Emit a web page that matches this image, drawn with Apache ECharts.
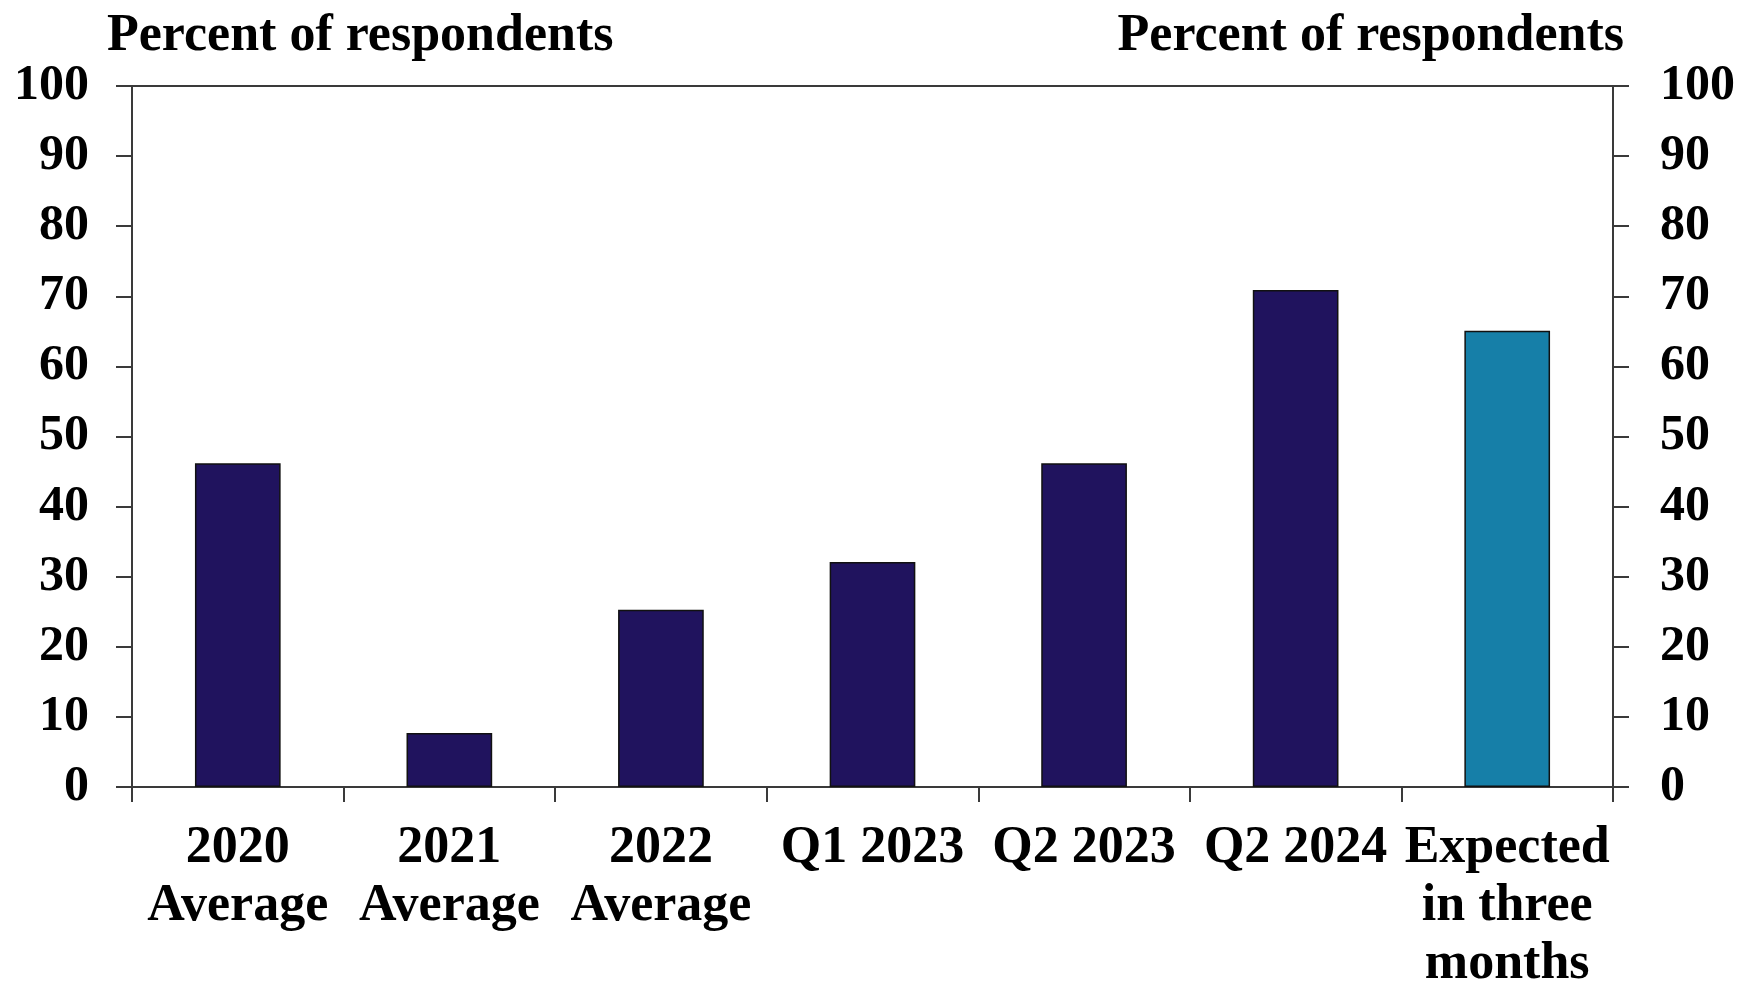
<!DOCTYPE html>
<html>
<head>
<meta charset="utf-8">
<script src="https://cdn.jsdelivr.net/npm/echarts@6/dist/echarts.min.js"></script>
<style>
html,body{margin:0;padding:0;background:#fff;}
#chart{width:1738px;height:983px;}
</style>
</head>
<body>
<div id="chart"></div>
<script>
const categories = ['2020\nAverage', '2021\nAverage', '2022\nAverage', 'Q1 2023', 'Q2 2023', 'Q2 2024', 'Expected\nin three\nmonths'];
const values = [46.2, 7.7, 25.3, 32.1, 46.2, 70.9, 65.1];
const axisTitle = 'Percent of respondents';

const navy = '#20135E';
const teal = '#167FA8';
const font = '"Liberation Serif", "Times New Roman", serif';

const chart = echarts.init(document.getElementById('chart'));
const yAxisBase = {
  type: 'value', min: 0, max: 100, interval: 10,
  splitLine: { show: false },
  axisLine: { show: true, lineStyle: { color: '#3a3a3a', width: 2 } },
  axisTick: { show: true, length: 16, lineStyle: { color: '#3a3a3a', width: 2 } },
};
chart.setOption({
  backgroundColor: '#fff',
  animation: false,
  graphic: [
    { type: 'text', left: 107, top: 11, style: { text: axisTitle, font: 'bold 52px ' + font, fill: '#000' } },
    { type: 'text', right: 114, top: 11, style: { text: axisTitle, font: 'bold 52px ' + font, fill: '#000' } }
  ],
  grid: { left: 132, right: 125, top: 86, bottom: 196, show: true, borderColor: '#3a3a3a', borderWidth: 2,
          containLabel: false, outerBoundsMode: 'none' },
  xAxis: {
    type: 'category', data: categories, boundaryGap: true,
    axisLine: { show: true, lineStyle: { color: '#3a3a3a', width: 2 } },
    axisTick: { show: true, alignWithLabel: false, length: 15, lineStyle: { color: '#3a3a3a', width: 2 } },
    axisLabel: { interval: 0, margin: 33, color: '#000', fontFamily: font, fontWeight: 'bold', fontSize: 52, lineHeight: 58 }
  },
  yAxis: [
    Object.assign({}, yAxisBase, { position: 'left',
      axisLabel: { margin: 43, color: '#000', fontFamily: font, fontWeight: 'bold', fontSize: 50 } }),
    Object.assign({}, yAxisBase, { position: 'right',
      axisLabel: { margin: 47, color: '#000', fontFamily: font, fontWeight: 'bold', fontSize: 50 } })
  ],
  series: [{
    type: 'bar', yAxisIndex: 0, barWidth: '40.5%',
    data: values.map((v, i) => ({ value: v, itemStyle: { color: i === values.length - 1 ? teal : navy } })),
    itemStyle: { borderColor: '#111', borderWidth: 1.5 }
  }]
});
</script>
</body>
</html>
